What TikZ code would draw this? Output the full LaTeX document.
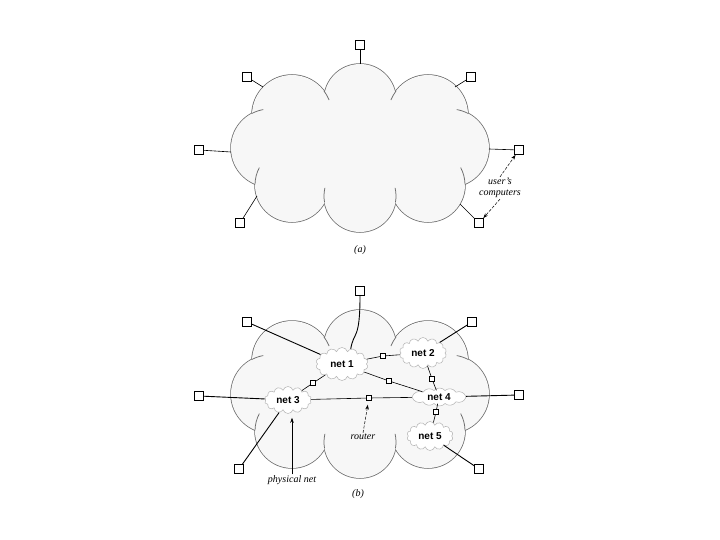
\documentclass[tikz,border=0pt]{standalone}
\usepackage{fontspec}
\setmainfont{Liberation Serif}
\newfontfamily\netfont{Liberation Sans}
\usetikzlibrary{shapes.symbols,shapes.geometric,arrows.meta,calc}
\definecolor{cloudfill}{gray}{0.968}
\definecolor{cloudline}{gray}{0.42}
\definecolor{netline}{gray}{0.7}
\tikzset{
 computer/.style={draw=black, line width=0.8pt, fill=white, minimum size=9pt, inner sep=0pt},
 routerbox/.style={draw=black, line width=0.5pt, fill=white, minimum size=5pt, inner sep=0pt},
 netcloud/.style={cloud, cloud puffs=14, cloud ignores aspect, draw=netline, fill=white, inner sep=0pt, line width=0.5pt},
 netlabel/.style={font=\netfont\bfseries\fontsize{10}{12}\selectfont, inner sep=0pt},
 caption/.style={font=\itshape\fontsize{10}{11}\selectfont, inner sep=1pt, align=center},
 link/.style={line width=0.9pt, black},
 wire/.style={line width=0.6pt, black},
 stub/.style={cloudline, line width=0.75pt},
 pointer/.style={line width=0.5pt, -{Stealth[length=5pt,width=3.5pt]}},
}
\newcommand\drawbigcloud{%
 \foreach \cx/\cy/\rr in {360/100/36, 292/115/40, 428/115/40, 270/148/39, 450/148/39, 292/185/37, 360/196/36, 428/185/37}
   {\draw[cloudline, line width=1.5pt] (\cx,\cy) circle[radius=\rr];}
 \foreach \cx/\cy/\rr in {360/100/36, 292/115/40, 428/115/40, 270/148/39, 450/148/39, 292/185/37, 360/196/36, 428/185/37}
   {\fill[cloudfill] (\cx,\cy) circle[radius=\rr];}
 \fill[cloudfill] (290,110) rectangle (430,190);
 % small inner continuations of the puffs
 \draw[stub] (292,115) ++(-37:40) arc[start angle=-37, end angle=-22, radius=40];
 \draw[stub] (428,115) ++(217:40) arc[start angle=217, end angle=202, radius=40];
 \draw[stub] (270,148) ++(-118:39) arc[start angle=-118, end angle=-100, radius=39];
 \draw[stub] (450,148) ++(-62:39) arc[start angle=-62, end angle=-80, radius=39];
 \draw[stub] (292,185) ++(181:37) arc[start angle=181, end angle=208, radius=37];
 \draw[stub] (428,185) ++(-1:37) arc[start angle=-1, end angle=-28, radius=37];
 \draw[stub] (360,196) ++(170:36) arc[start angle=170, end angle=193, radius=36];
 \draw[stub] (360,196) ++(10:36) arc[start angle=10, end angle=-13, radius=36];
}
\begin{document}
\begin{tikzpicture}[x=1pt,y=-1pt]
\useasboundingbox[fill=white] (0,0) rectangle (720,540);

% ---------- (a) ----------
\drawbigcloud
\coordinate (e1) at (360,64);
\coordinate (e2) at (263,87);
\coordinate (e3) at (455,87);
\coordinate (e4) at (231,152);
\coordinate (e5) at (489,149);
\coordinate (e6) at (257,196);
\coordinate (e7) at (460,204);
\node[computer] (ca1) at (360,45) {};
\node[computer] (ca2) at (247,77) {};
\node[computer] (ca3) at (471,77) {};
\node[computer] (ca4) at (199,150) {};
\node[computer] (ca5) at (519,150) {};
\node[computer] (ca6) at (240,223) {};
\node[computer] (ca7) at (479,223) {};
\foreach \i in {1,...,7} {\draw[wire] (e\i) -- (ca\i);}
\node[caption] (uc) at (500,188) {user's\\computers};
\draw[pointer, dash pattern=on 3pt off 1.5pt] (uc.north) -- (ca5);
\draw[pointer, dash pattern=on 3pt off 1.5pt] (uc.south) -- (ca7);
\node[caption] (capa) at (360,250) {(a)};

% ---------- (b) ----------
\begin{scope}[shift={(0,246)}]
\drawbigcloud
\end{scope}
\node[netcloud, minimum width=52pt, minimum height=33pt] (n1) at (342,364) {};
\node[netcloud, minimum width=47pt, minimum height=31pt] (n2) at (423,353) {};
\node[netcloud, minimum width=47pt, minimum height=27pt] (n3) at (288,400) {};
\node[ellipse, minimum width=54pt, minimum height=13pt, inner sep=0pt] (n4) at (439,397) {};
\path[draw=netline, fill=white, line width=0.5pt]
  ($(n4)+(-27,0)$) to[bend left=50] ($(n4)+(-16,-4.8)$) to[bend left=50] ($(n4)+(-5,-6.5)$)
  to[bend left=50] ($(n4)+(6,-6.5)$) to[bend left=50] ($(n4)+(17,-4.8)$) to[bend left=50] ($(n4)+(27,0)$)
  to[bend left=50] ($(n4)+(17,4.8)$) to[bend left=50] ($(n4)+(6,6.5)$) to[bend left=50] ($(n4)+(-5,6.5)$)
  to[bend left=50] ($(n4)+(-16,4.8)$) to[bend left=50] ($(n4)+(-27,0)$) -- cycle;
\node[netcloud, minimum width=46pt, minimum height=29pt] (n5) at (430,436) {};
\node[netlabel] (l1) at (n1) {net 1};
\node[netlabel] (l2) at (n2) {net 2};
\node[netlabel] (l3) at (n3) {net 3};
\node[netlabel] (l4) at (n4) {net 4};
\node[netlabel] (l5) at (n5) {net 5};

\node[computer] (cb1) at (360,291) {};
\node[computer] (cb2) at (247,322) {};
\node[computer] (cb3) at (472,322) {};
\node[computer] (cb4) at (199,396) {};
\node[computer] (cb5) at (519,395) {};
\node[computer] (cb6) at (239,469) {};
\node[computer] (cb7) at (479,469) {};

\node[routerbox] (r12) at (383,356) {};
\node[routerbox] (r14) at (389,381) {};
\node[routerbox] (r24) at (432,379) {};
\node[routerbox] (r34) at (369,398) {};
\node[routerbox] (r45) at (436,412) {};
\node[routerbox] (r13) at (313,383) {};

\draw[link] (cb1.south) .. controls +(0,45) and +(3,-18) .. (n1.60);
\draw[link] (cb2) -- (n1);
\draw[link] (cb3) -- (n2);
\draw[link] (cb4) -- (n3);
\draw[link] (cb5) -- (n4);
\draw[link] (cb6) -- (n3);
\draw[link] (cb7) -- (n5);

\draw[wire] (n1) -- (r12) -- (n2);
\draw[wire] (n1) -- (r14) -- (n4);
\draw[wire] (n1) -- (r13) -- (n3);
\draw[wire] (n2) -- (r24) -- (n4);
\draw[wire] (n3) -- (r34) -- (n4);
\draw[wire] (n4) -- (r45) -- (n5);

\node[caption] (rl) at (363,437) {router};
\draw[pointer, dash pattern=on 3pt off 1.5pt, shorten >=4pt] (rl.north) -- (r34);
\node[caption] (pn) at (292,480) {physical net};
\draw[pointer, shorten >=4pt] (pn.north) -- (pn.north |- n3.south);
\node[caption] (capb) at (358,494) {(b)};
\end{tikzpicture}
\end{document}
